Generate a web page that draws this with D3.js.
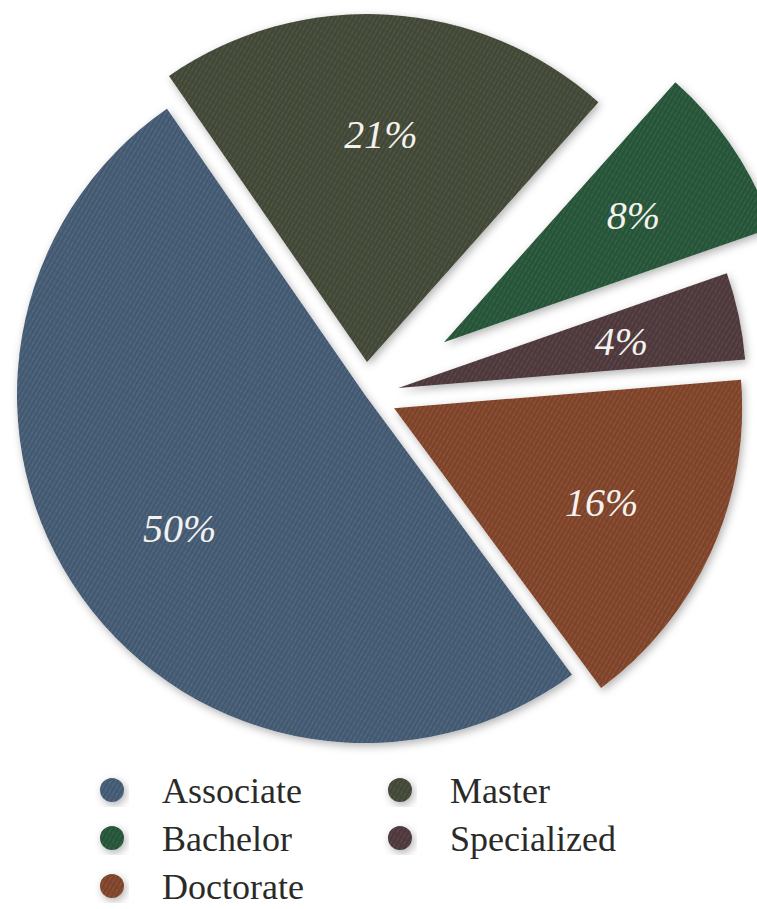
<!DOCTYPE html>
<html><head><meta charset="utf-8">
<script src="https://cdn.jsdelivr.net/npm/d3@7"></script>
<style>
body{margin:0;background:#fff}
.serif{font-family:"Liberation Serif","DejaVu Serif","Noto Serif",Tinos,"Times New Roman",Times,serif;}
</style>
</head><body>
<script>
const categories = ["Associate", "Master", "Bachelor", "Specialized", "Doctorate"];
const values = [50, 21, 8, 4, 16];
const labels = ["50%", "21%", "8%", "4%", "16%"];
const colors = ["#4a6079", "#474d3a", "#2b5a3d", "#523d40", "#86492f"];

const W = 757, H = 909;
const cx = 365, cy = 395, R = 348, labelR = 228;
const explode = [0, 33, 95, 34, 32];
const start = 143.5 * Math.PI / 180;

const svg = d3.select("body").append("svg").attr("width", W).attr("height", H)
  .style("display", "block").style("background", "#fff");
const defs = svg.append("defs");

const f = defs.append("filter").attr("id", "sh").attr("x", "-20%").attr("y", "-20%").attr("width", "140%").attr("height", "140%");
f.append("feDropShadow").attr("dx", 2).attr("dy", 3).attr("stdDeviation", 4)
  .attr("flood-color", "#000").attr("flood-opacity", 0.3);

const pat = defs.append("pattern").attr("id", "tex").attr("patternUnits", "userSpaceOnUse")
  .attr("width", 4).attr("height", 7).attr("patternTransform", "rotate(30)");
pat.append("rect").attr("x", 0).attr("y", 0).attr("width", 1.2).attr("height", 7).attr("fill", "#000").attr("opacity", 0.12);
pat.append("rect").attr("x", 2).attr("y", 0).attr("width", 1).attr("height", 4).attr("fill", "#fff").attr("opacity", 0.06);

const color = d3.scaleOrdinal().domain(categories).range(colors);
const pie = d3.pie().sort(null).value(d => d.v).startAngle(start).endAngle(start + 2 * Math.PI);
const data = categories.map((c, i) => ({ c, v: values[i], l: labels[i], e: explode[i] }));
const arcs = pie(data);
const arc = d3.arc().innerRadius(0).outerRadius(R);
const lab = d3.arc().innerRadius(labelR).outerRadius(labelR);

const g = svg.append("g").attr("transform", `translate(${cx},${cy})`);
const sl = g.selectAll("g.s").data(arcs).join("g").attr("class", "s")
  .attr("transform", d => {
    const a = (d.startAngle + d.endAngle) / 2;
    return `translate(${Math.sin(a) * d.data.e},${-Math.cos(a) * d.data.e})`;
  });
sl.append("path").attr("d", arc).attr("fill", d => color(d.data.c)).attr("filter", "url(#sh)");
sl.append("path").attr("d", arc).attr("fill", "url(#tex)");
sl.append("text").attr("class", "serif").attr("transform", d => `translate(${lab.centroid(d)})`)
  .attr("text-anchor", "middle").attr("dy", "0.35em")
  .style("font-style", "italic").style("font-size", "40px").attr("fill", "#f4f2ee")
  .text(d => d.data.l);

const lg = svg.append("g");
const items = lg.selectAll("g").data(data).join("g")
  .attr("transform", (d, i) => `translate(${112 + (i % 2) * 288},${790 + Math.floor(i / 2) * 48})`);
items.append("circle").attr("r", 12).attr("fill", d => color(d.c)).attr("filter", "url(#sh)");
items.append("circle").attr("r", 12).attr("fill", "url(#tex)");
items.append("text").attr("class", "serif").attr("x", 50).attr("dy", "0.35em")
  .style("font-size", "36px").attr("fill", "#2a2a28").text(d => d.c);
</script>
</body></html>
